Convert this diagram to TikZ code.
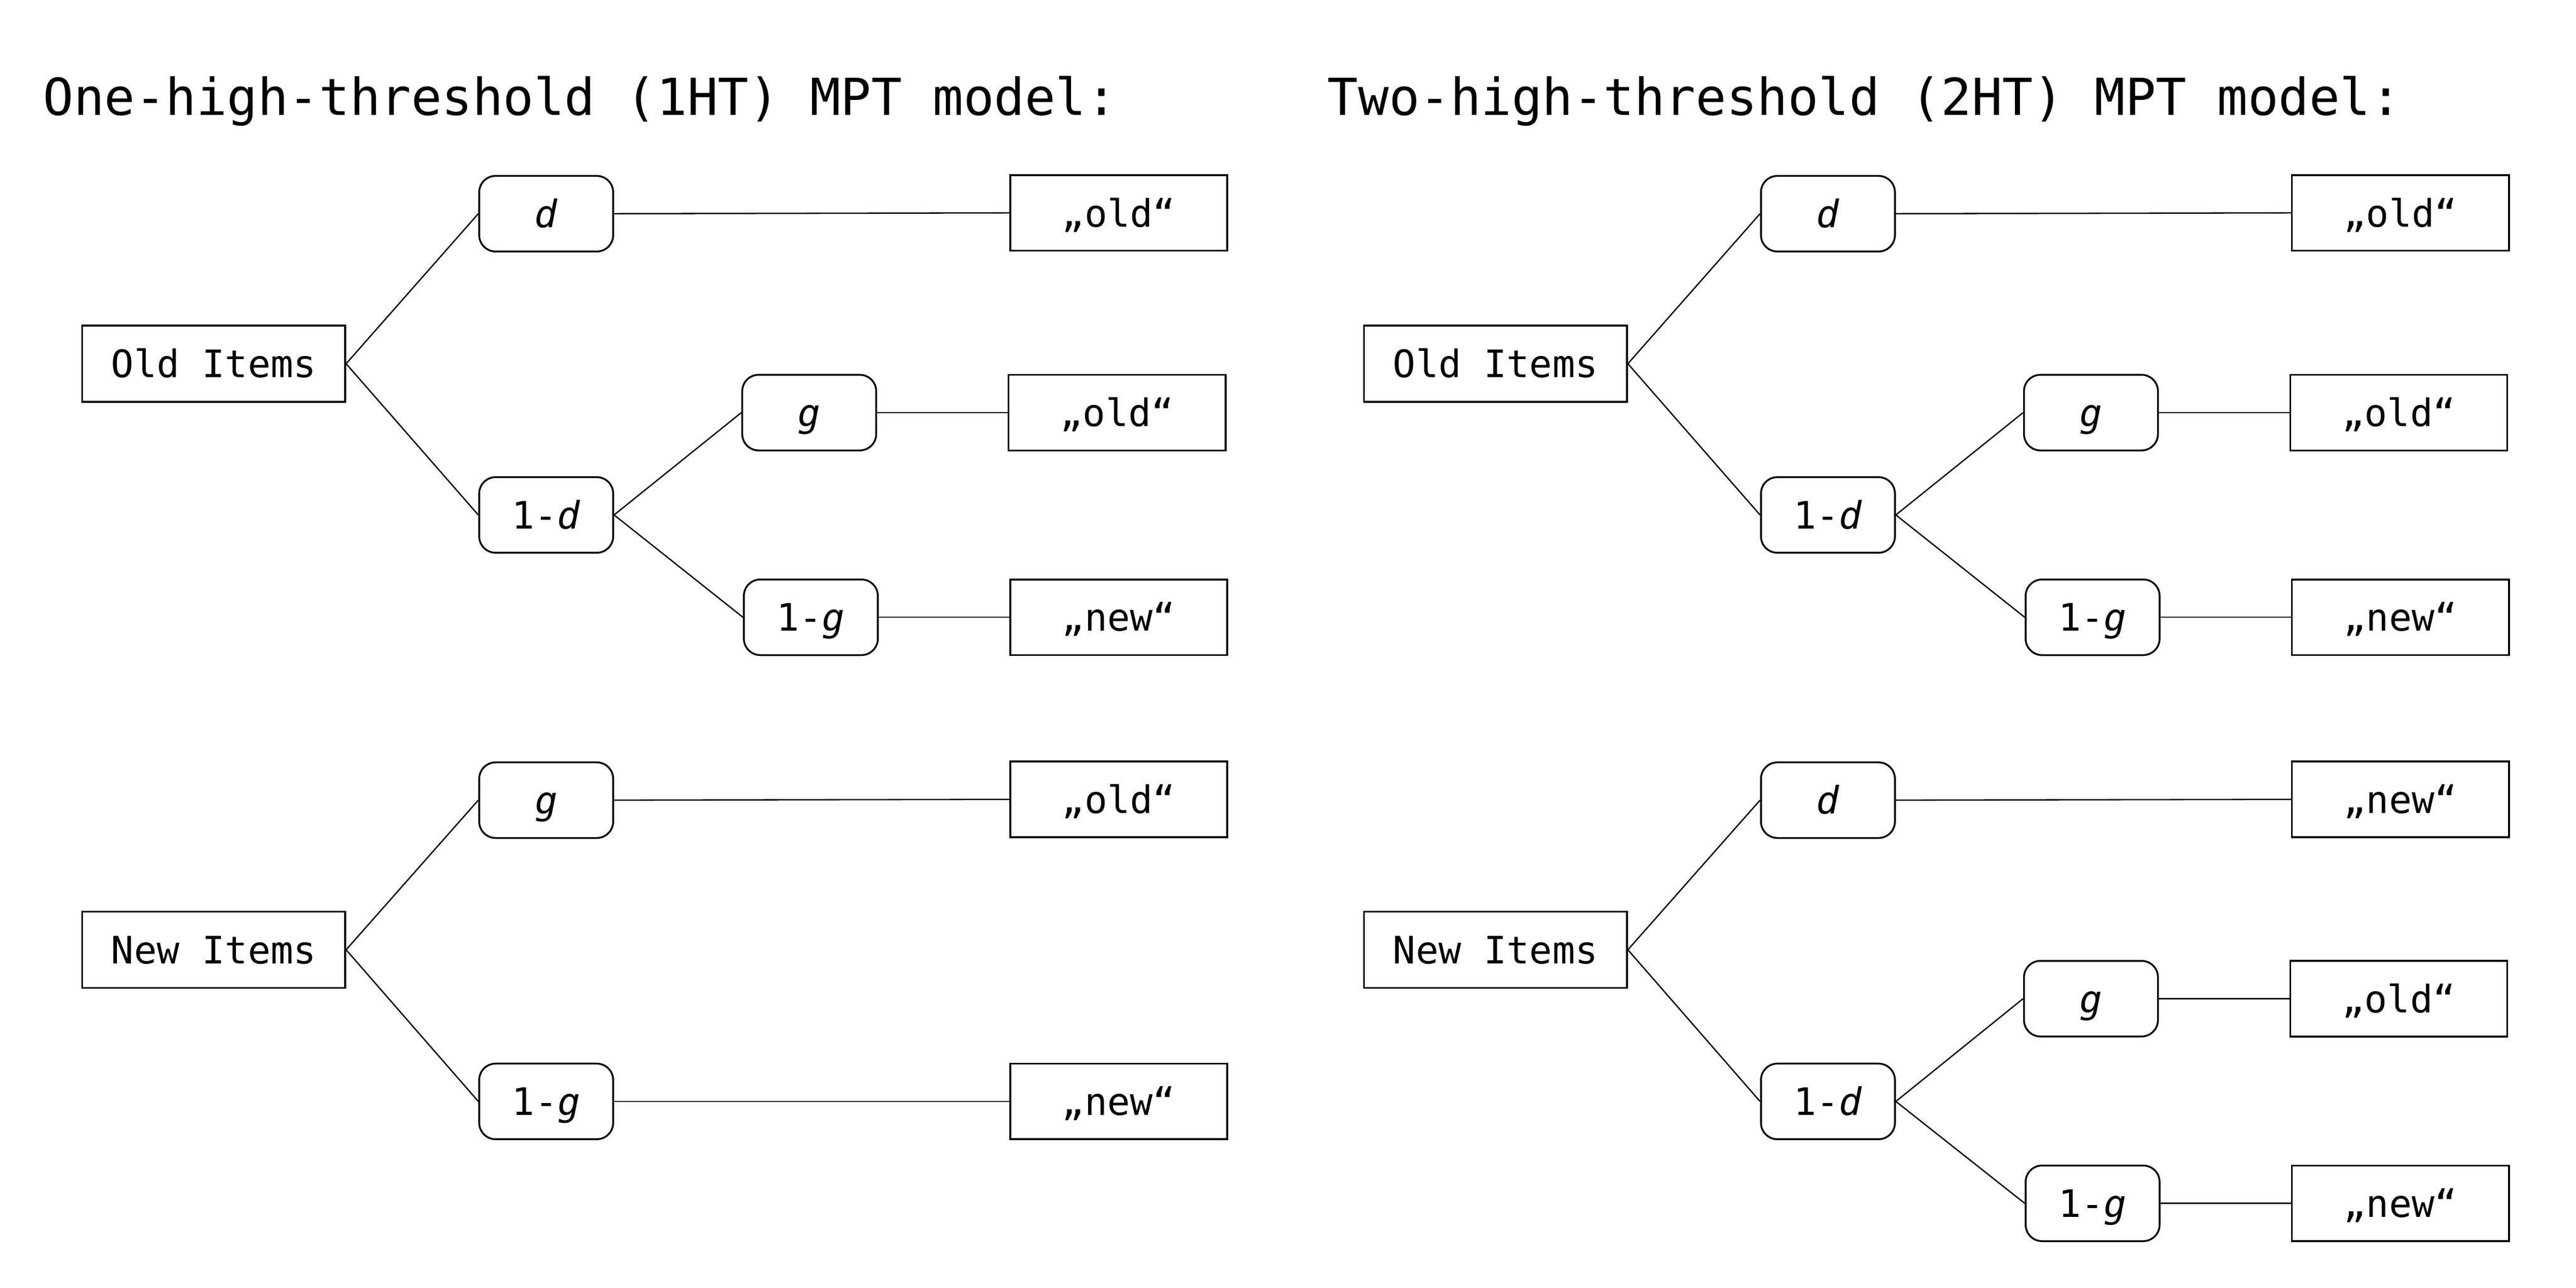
\documentclass[tikz,border=0pt]{standalone}
\usepackage{fontspec}
\setmainfont{DejaVu Sans Mono}
\begin{document}
\begin{tikzpicture}[x=1pt,y=-1pt,
  every node/.style={inner sep=0pt, font=\fontsize{23}{27}\selectfont, text height=16.8pt, text depth=0pt, align=center},
  itembox/.style={draw, line width=1.1pt, minimum width=160pt, minimum height=46.5pt},
  parbox/.style={draw, line width=1.1pt, rounded corners=10pt, minimum width=81.5pt, minimum height=46pt},
  outbox/.style={draw, line width=1.1pt, minimum width=132pt, minimum height=46pt},
  titletext/.style={anchor=base west, font=\fontsize{31}{36}\selectfont, text height=, text depth=},
  conn/.style={line width=0.8pt}
]
\useasboundingbox (0,0) rectangle (1567,783.4);

% ---------- left panel: 1HT ----------
\node[titletext] (t1) at (26,70) {One-high-threshold (1HT) MPT model:};

\node[itembox] (lold) at (130,221.25) {Old Items};
\node[parbox] (ld) at (332.25,130) {\textit{d}};
\node[outbox] (lo1) at (680.5,129.5) {„old“};
\node[parbox] (l1d) at (332.25,313.25) {1-\textit{d}};
\node[parbox] (lg) at (492.25,251) {\textit{g}};
\node[outbox] (lo2) at (679.5,251) {„old“};
\node[parbox] (l1g) at (493.25,375.5) {1-\textit{g}};
\node[outbox] (ln1) at (680.5,375.5) {„new“};

\node[itembox] (lnew) at (130,577.75) {New Items};
\node[parbox] (lg2) at (332.25,486.75) {\textit{g}};
\node[outbox] (lo3) at (680.5,486.25) {„old“};
\node[parbox] (l1g2) at (332.25,670) {1-\textit{g}};
\node[outbox] (ln2) at (680.5,670) {„new“};

\draw[conn] (lold.east) -- (ld.west);
\draw[conn] (lold.east) -- (l1d.west);
\draw[conn] (ld.east) -- (lo1.west);
\draw[conn] (l1d.east) -- (lg.west);
\draw[conn] (l1d.east) -- (l1g.west);
\draw[conn] (lg.east) -- (lo2.west);
\draw[conn] (l1g.east) -- (ln1.west);
\draw[conn] (lnew.east) -- (lg2.west);
\draw[conn] (lnew.east) -- (l1g2.west);
\draw[conn] (lg2.east) -- (lo3.west);
\draw[conn] (l1g2.east) -- (ln2.west);

% ---------- right panel: 2HT ----------
\begin{scope}[xshift=779.7pt]
\node[titletext] (t2) at (27.7,70) {Two-high-threshold (2HT) MPT model:};

\node[itembox] (rold) at (130,221.25) {Old Items};
\node[parbox] (rd) at (332.25,130) {\textit{d}};
\node[outbox] (ro1) at (680.5,129.5) {„old“};
\node[parbox] (r1d) at (332.25,313.25) {1-\textit{d}};
\node[parbox] (rg) at (492.25,251) {\textit{g}};
\node[outbox] (ro2) at (679.5,251) {„old“};
\node[parbox] (r1g) at (493.25,375.5) {1-\textit{g}};
\node[outbox] (rn1) at (680.5,375.5) {„new“};

\node[itembox] (rnew) at (130,577.75) {New Items};
\node[parbox] (rd2) at (332.25,486.75) {\textit{d}};
\node[outbox] (rn2) at (680.5,486.25) {„new“};
\node[parbox] (r1d2) at (332.25,670) {1-\textit{d}};
\node[parbox] (rg2) at (492.25,607.5) {\textit{g}};
\node[outbox] (ro3) at (679.5,607.5) {„old“};
\node[parbox] (r1g2) at (493.25,732) {1-\textit{g}};
\node[outbox] (rn3) at (680.5,732) {„new“};

\draw[conn] (rold.east) -- (rd.west);
\draw[conn] (rold.east) -- (r1d.west);
\draw[conn] (rd.east) -- (ro1.west);
\draw[conn] (r1d.east) -- (rg.west);
\draw[conn] (r1d.east) -- (r1g.west);
\draw[conn] (rg.east) -- (ro2.west);
\draw[conn] (r1g.east) -- (rn1.west);
\draw[conn] (rnew.east) -- (rd2.west);
\draw[conn] (rnew.east) -- (r1d2.west);
\draw[conn] (rd2.east) -- (rn2.west);
\draw[conn] (r1d2.east) -- (rg2.west);
\draw[conn] (r1d2.east) -- (r1g2.west);
\draw[conn] (rg2.east) -- (ro3.west);
\draw[conn] (r1g2.east) -- (rn3.west);
\end{scope}
\end{tikzpicture}
\end{document}
